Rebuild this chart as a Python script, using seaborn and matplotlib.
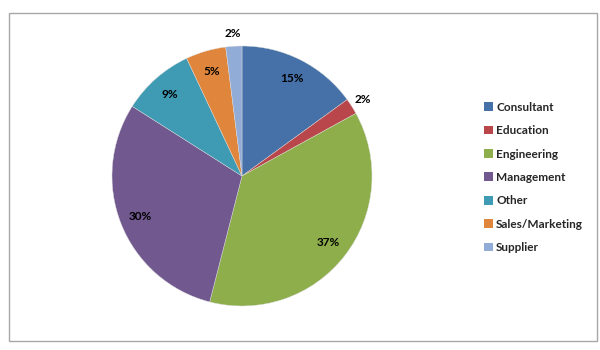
import numpy as np
import matplotlib
matplotlib.use("Agg")
import matplotlib.pyplot as plt
import matplotlib.patches as mpatches
import seaborn as sns

categories = ["Consultant", "Education", "Engineering", "Management", "Other", "Sales/Marketing", "Supplier"]
values = [15, 2, 37, 30, 9, 5, 2]
colors = ["#4571A8", "#B8464A", "#8DAE4B", "#71588F", "#3F9BB3", "#E0863C", "#92ACD8"]

sns.set_theme(style="white")
plt.rcParams['font.family'] = ['Lato', 'DejaVu Sans']

fig = plt.figure(figsize=(6, 3.5), dpi=100)
fig.patch.set_facecolor("white")

# outer border
fig.patches.append(mpatches.Rectangle((9/600, 1-341/350), 588/600, 328/350,
                                      transform=fig.transFigure, fill=False,
                                      edgecolor="#A8A8A8", linewidth=1.0))

ax = fig.add_axes([112/600, (350-176-130)/350, 260/600, 260/350])
wedges, _ = ax.pie(values, colors=colors, startangle=90, counterclock=False,
                   wedgeprops=dict(linewidth=0.3, edgecolor="#dddddd"))
ax.set_xlim(-1, 1)
ax.set_ylim(-1, 1)
ax.set_aspect("equal")
ax.axis("off")

for w, v in zip(wedges, values):
    ang = np.deg2rad((w.theta1 + w.theta2) / 2)
    r = 1.1 if v <= 2 else 0.84
    ax.text(r*np.cos(ang), r*np.sin(ang), f"{v}%", ha="center", va="center",
            fontsize=8.5, fontweight="bold", color="black", clip_on=False)

handles = [mpatches.Patch(facecolor=c, edgecolor="none") for c in colors]
leg = fig.legend(handles, categories, loc="upper left",
                 bbox_to_anchor=(479/600, 1-97/350), frameon=False,
                 prop=dict(size=8.5, weight="bold"), handlelength=0.75, handleheight=0.75,
                 handletextpad=0.3, labelspacing=1.05, borderaxespad=0)

fig.savefig("out.png", dpi=100, facecolor="white")
